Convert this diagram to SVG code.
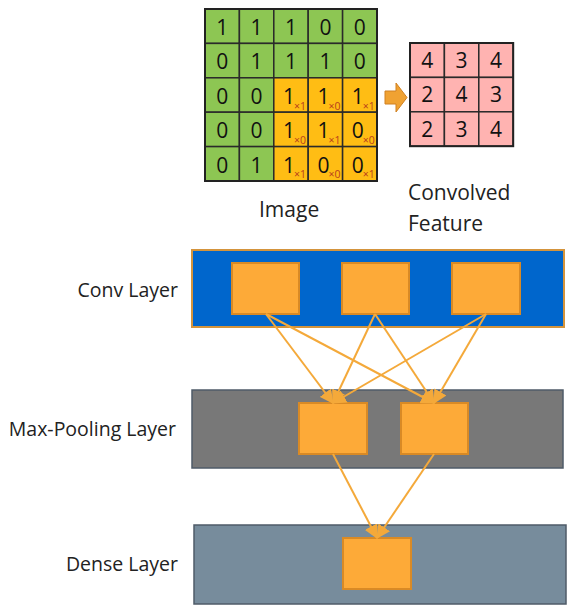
<svg xmlns="http://www.w3.org/2000/svg" width="575" height="615" viewBox="0 0 575 615">
<style>
.g{fill:#8dc653;stroke:#2a2a2a;stroke-width:1.5}
.o{fill:#ffbd14;stroke:#2a2a2a;stroke-width:1.5}
.p{fill:#ffb3b1;stroke:#2a2a2a;stroke-width:1.5}
.d{font-family:"Open Sans","Liberation Sans",sans-serif;font-size:21px;fill:#111;text-anchor:middle}
.k{font-family:"Open Sans","Liberation Sans",sans-serif;font-size:10.5px;fill:#b8401c}
.lbl{font-family:"Open Sans","Liberation Sans",sans-serif;font-size:19.5px;fill:#222}
.big{font-size:21px}
.box{fill:#fdaa38;stroke:#d98a25;stroke-width:2}
.edge{stroke:#f4a93a;stroke-width:2;fill:none;marker-end:url(#ah)}
</style>
<defs>
<marker id="ah" markerUnits="userSpaceOnUse" markerWidth="14" markerHeight="14" viewBox="0 0 12 12" refX="11" refY="6" orient="auto">
<path d="M0,0 L12,6 L0,12 z" fill="#f4a93a"/>
</marker>
</defs>
<rect width="575" height="615" fill="#fff"/>

<g id="image-grid">
<rect class="g" x="205" y="9" width="34.4" height="34.4"/>
<rect class="g" x="239.4" y="9" width="34.4" height="34.4"/>
<rect class="g" x="273.8" y="9" width="34.4" height="34.4"/>
<rect class="g" x="308.2" y="9" width="34.4" height="34.4"/>
<rect class="g" x="342.6" y="9" width="34.4" height="34.4"/>
<rect class="g" x="205" y="43.4" width="34.4" height="34.4"/>
<rect class="g" x="239.4" y="43.4" width="34.4" height="34.4"/>
<rect class="g" x="273.8" y="43.4" width="34.4" height="34.4"/>
<rect class="g" x="308.2" y="43.4" width="34.4" height="34.4"/>
<rect class="g" x="342.6" y="43.4" width="34.4" height="34.4"/>
<rect class="g" x="205" y="77.8" width="34.4" height="34.4"/>
<rect class="g" x="239.4" y="77.8" width="34.4" height="34.4"/>
<rect class="o" x="273.8" y="77.8" width="34.4" height="34.4"/>
<rect class="o" x="308.2" y="77.8" width="34.4" height="34.4"/>
<rect class="o" x="342.6" y="77.8" width="34.4" height="34.4"/>
<rect class="g" x="205" y="112.2" width="34.4" height="34.4"/>
<rect class="g" x="239.4" y="112.2" width="34.4" height="34.4"/>
<rect class="o" x="273.8" y="112.2" width="34.4" height="34.4"/>
<rect class="o" x="308.2" y="112.2" width="34.4" height="34.4"/>
<rect class="o" x="342.6" y="112.2" width="34.4" height="34.4"/>
<rect class="g" x="205" y="146.6" width="34.4" height="34.4"/>
<rect class="g" x="239.4" y="146.6" width="34.4" height="34.4"/>
<rect class="o" x="273.8" y="146.6" width="34.4" height="34.4"/>
<rect class="o" x="308.2" y="146.6" width="34.4" height="34.4"/>
<rect class="o" x="342.6" y="146.6" width="34.4" height="34.4"/>
<rect x="205" y="9" width="172" height="172" fill="none" stroke="#222" stroke-width="2"/>
<text class="d" x="222.2" y="35">1</text><text class="d" x="256.6" y="35">1</text><text class="d" x="291" y="35">1</text><text class="d" x="325.4" y="35">0</text><text class="d" x="359.8" y="35">0</text>
<text class="d" x="222.2" y="69.4">0</text><text class="d" x="256.6" y="69.4">1</text><text class="d" x="291" y="69.4">1</text><text class="d" x="325.4" y="69.4">1</text><text class="d" x="359.8" y="69.4">0</text>
<text class="d" x="222.2" y="103.8">0</text><text class="d" x="256.6" y="103.8">0</text><text class="d" x="289" y="103.8">1</text><text class="d" x="323.4" y="103.8">1</text><text class="d" x="357.8" y="103.8">1</text>
<text class="d" x="222.2" y="138.2">0</text><text class="d" x="256.6" y="138.2">0</text><text class="d" x="289" y="138.2">1</text><text class="d" x="323.4" y="138.2">1</text><text class="d" x="357.8" y="138.2">0</text>
<text class="d" x="222.2" y="172.6">0</text><text class="d" x="256.6" y="172.6">1</text><text class="d" x="289" y="172.6">1</text><text class="d" x="323.4" y="172.6">0</text><text class="d" x="357.8" y="172.6">0</text>
<text class="k" x="294" y="109.5">×1</text><text class="k" x="328.4" y="109.5">×0</text><text class="k" x="362.8" y="109.5">×1</text>
<text class="k" x="294" y="143.9">×0</text><text class="k" x="328.4" y="143.9">×1</text><text class="k" x="362.8" y="143.9">×0</text>
<text class="k" x="294" y="178.3">×1</text><text class="k" x="328.4" y="178.3">×0</text><text class="k" x="362.8" y="178.3">×1</text>
<text class="lbl big" x="259" y="217">Image</text>
</g>

<g id="conv-arrow">
<path d="M385,91 L396,91 L396,83 L407,97.5 L396,112 L396,104 L385,104 z" fill="#f0a232" stroke="#d08020" stroke-width="1"/>
</g>

<g id="convolved-feature">
<rect class="p" x="410" y="43" width="34.4" height="34.4"/>
<rect class="p" x="444.4" y="43" width="34.4" height="34.4"/>
<rect class="p" x="478.8" y="43" width="34.4" height="34.4"/>
<rect class="p" x="410" y="77.4" width="34.4" height="34.4"/>
<rect class="p" x="444.4" y="77.4" width="34.4" height="34.4"/>
<rect class="p" x="478.8" y="77.4" width="34.4" height="34.4"/>
<rect class="p" x="410" y="111.8" width="34.4" height="34.4"/>
<rect class="p" x="444.4" y="111.8" width="34.4" height="34.4"/>
<rect class="p" x="478.8" y="111.8" width="34.4" height="34.4"/>
<rect x="410" y="43" width="103.2" height="103.2" fill="none" stroke="#222" stroke-width="2"/>
<text class="d" x="427.2" y="68">4</text><text class="d" x="461.6" y="68">3</text><text class="d" x="496" y="68">4</text>
<text class="d" x="427.2" y="102.4">2</text><text class="d" x="461.6" y="102.4">4</text><text class="d" x="496" y="102.4">3</text>
<text class="d" x="427.2" y="136.8">2</text><text class="d" x="461.6" y="136.8">3</text><text class="d" x="496" y="136.8">4</text>
<text class="lbl big" x="408" y="200">Convolved</text>
<text class="lbl big" x="408" y="231">Feature</text>
</g>

<g id="conv-layer">
<rect x="192" y="250" width="372" height="77" fill="#0066cc" stroke="#d4943c" stroke-width="2"/>
<text class="lbl" x="178" y="297" text-anchor="end">Conv Layer</text>
<rect class="box" x="232" y="263" width="67" height="51"/>
<rect class="box" x="342" y="263" width="67" height="51"/>
<rect class="box" x="452" y="263" width="68" height="51"/>
</g>

<g id="pool-layer">
<rect x="192" y="390" width="371" height="78" fill="#787878" stroke="#4f5b68" stroke-width="1.5"/>
<text class="lbl" x="176" y="436" text-anchor="end">Max-Pooling Layer</text>
<rect class="box" x="299" y="403" width="68" height="51"/>
<rect class="box" x="401" y="403" width="67" height="51"/>
</g>

<g id="dense-layer">
<rect x="194" y="525" width="372" height="79" fill="#778c9c" stroke="#4f5b68" stroke-width="1.5"/>
<text class="lbl" x="178" y="571" text-anchor="end">Dense Layer</text>
<rect class="box" x="343" y="538" width="68" height="51"/>
</g>

<g id="connectors">
<line class="edge" x1="266" y1="314" x2="333" y2="403"/>
<line class="edge" x1="266" y1="314" x2="434" y2="403"/>
<line class="edge" x1="375" y1="314" x2="333" y2="403"/>
<line class="edge" x1="375" y1="314" x2="434" y2="403"/>
<line class="edge" x1="486" y1="314" x2="333" y2="403"/>
<line class="edge" x1="486" y1="314" x2="434" y2="403"/>
<line class="edge" x1="333" y1="454" x2="377" y2="538"/>
<line class="edge" x1="434" y1="454" x2="377" y2="538"/>
</g>
</svg>
